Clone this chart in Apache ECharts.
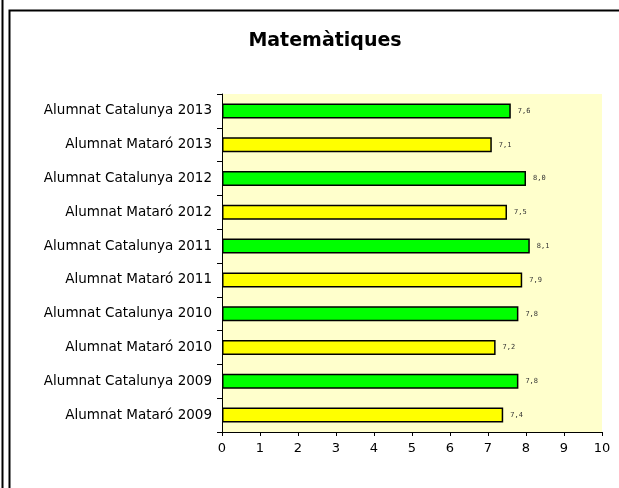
<!DOCTYPE html>
<html>
<head>
<meta charset="utf-8">
<script src="https://cdn.jsdelivr.net/npm/echarts@6/dist/echarts.min.js"></script>
<style>
html, body { margin: 0; padding: 0; background: #fff; }
#chart { width: 619px; height: 488px; }
</style>
</head>
<body>
<div id="chart"></div>
<script>
// categories from bottom to top
var categories = [
	'Alumnat Mataró 2009', 'Alumnat Catalunya 2009',
	'Alumnat Mataró 2010', 'Alumnat Catalunya 2010',
	'Alumnat Mataró 2011', 'Alumnat Catalunya 2011',
	'Alumnat Mataró 2012', 'Alumnat Catalunya 2012',
	'Alumnat Mataró 2013', 'Alumnat Catalunya 2013'
];
var values = [7.4, 7.8, 7.2, 7.8, 7.9, 8.1, 7.5, 8.0, 7.1, 7.6];
var barColors = ['#FFFF00', '#00FF00'];   // Mataró, Catalunya
var xTicks = { min: 0, max: 10, interval: 1 };

var chart = echarts.init(document.getElementById('chart'));

var option = {
	animation: false,
	backgroundColor: '#fff',
	title: {
		text: 'Matemàtiques',
		left: 320,
		top: 27,
		textAlign: 'center',
		textStyle: { fontFamily: 'DejaVu Sans', fontSize: 19, fontWeight: 'bold', color: '#000' }
	},
	graphic: [
		{ type: 'line', shape: { x1: 2.5, y1: 0, x2: 2.5, y2: 488 }, style: { stroke: '#000', lineWidth: 2 } },
		{ type: 'rect', shape: { x: 9.5, y: 10.5, width: 640, height: 500 }, style: { fill: null, stroke: '#000', lineWidth: 2 } }
	],
	grid: {
		left: 222, right: 17, top: 94, bottom: 56,
		show: true, backgroundColor: '#FFFFCC', borderWidth: 0
	},
	xAxis: {
		type: 'value',
		min: xTicks.min, max: xTicks.max, interval: xTicks.interval,
		splitLine: { show: false },
		axisLine: { show: true, lineStyle: { color: '#000', width: 1 } },
		axisTick: { show: true, length: 4, lineStyle: { color: '#000' } },
		axisLabel: { color: '#000', fontFamily: 'DejaVu Sans', fontSize: 13, margin: 10 }
	},
	yAxis: {
		type: 'category',
		data: categories,
		axisLine: { show: true, lineStyle: { color: '#000', width: 1 } },
		axisTick: { show: true, length: 5, lineStyle: { color: '#000' } },
		axisLabel: { color: '#000', fontFamily: 'DejaVu Sans', fontSize: 13.5, margin: 10 }
	},
	series: [{
		type: 'bar',
		data: values.map(function (v, i) {
			return { value: v, itemStyle: { color: barColors[i % 2] } };
		}),
		barWidth: 15,
		itemStyle: { borderColor: '#000', borderWidth: 1.5 },
		label: {
			show: true,
			position: 'right',
			distance: 7,
			fontFamily: 'DejaVu Sans Mono',
			fontSize: 7,
			color: '#333',
			formatter: function (p) { return p.value.toFixed(1).replace('.', ','); }
		}
	}]
};

chart.setOption(option);
</script>
</body>
</html>
